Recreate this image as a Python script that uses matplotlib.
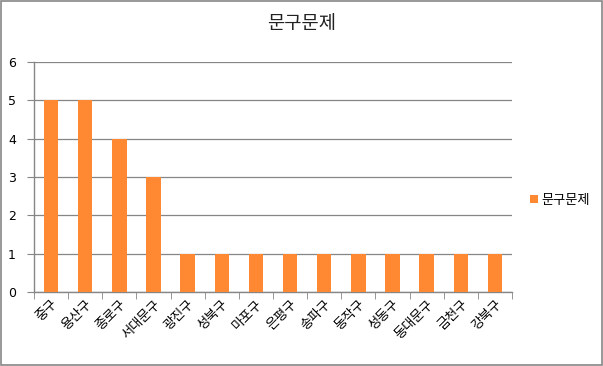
import matplotlib
matplotlib.use("Agg")
import matplotlib.pyplot as plt
from matplotlib.patches import Rectangle
import numpy as np

plt.rcParams['font.family'] = ['Noto Sans CJK KR', 'DejaVu Sans']

categories = ['중구', '용산구', '종로구', '서대문구', '광진구', '성북구', '마포구',
              '은평구', '송파구', '동작구', '성동구', '동대문구', '금천구', '강북구']
values = [5, 5, 4, 3, 1, 1, 1, 1, 1, 1, 1, 1, 1, 1]
series_name = '문구문제'
title = '문구문제'
yticks = [0, 1, 2, 3, 4, 5, 6]

W, H = 603, 366
fig = plt.figure(figsize=(W / 100, H / 100), dpi=100)
fig.patches.append(Rectangle((1 / W, 1 / H), (W - 2) / W, (H - 2) / H, transform=fig.transFigure,
                             fill=False, edgecolor='#868686', linewidth=1.2))

x0, x1 = 34, 512
ytop, ybot = 62, 292
ax = fig.add_axes([x0 / W, 1 - ybot / H, (x1 - x0) / W, (ybot - ytop) / H])

color = '#FF8833'
x = np.arange(len(categories))
ax.bar(x, values, width=0.42, color=color, zorder=3, label=series_name)
ax.set_xlim(-0.5, len(categories) - 0.5)
ax.set_ylim(0, 6)
ax.set_yticks(yticks)
ax.set_yticklabels([str(t) for t in yticks], fontsize=9, family='DejaVu Sans')
ax.yaxis.grid(True, color='#868686', linewidth=0.9, zorder=0)
ax.set_axisbelow(True)

ax.set_xticks(x)
ax.set_xticklabels(categories, rotation=45, ha='right', rotation_mode='anchor', fontsize=9.5)
ax.tick_params(axis='x', length=0, pad=4)
ax.set_xticks(np.arange(-0.5, len(categories), 1), minor=True)
ax.tick_params(axis='x', which='minor', length=5, color='#868686', direction='out')
ax.tick_params(axis='y', length=5, color='#868686', direction='out', pad=8)

for s in ['top', 'right']:
    ax.spines[s].set_visible(False)
for s in ['left', 'bottom']:
    ax.spines[s].set_color('#868686')
    ax.spines[s].set_linewidth(1.0)

fig.text(0.5, 1 - 24 / H, title, ha='center', va='center', fontsize=13.5, color='#222222')

leg = fig.legend(loc='center left', bbox_to_anchor=(518 / W, 1 - 200 / H), frameon=False,
                 fontsize=9.5, handlelength=0.6, handleheight=0.6, handletextpad=0.3)

fig.savefig('out.png', dpi=100)
